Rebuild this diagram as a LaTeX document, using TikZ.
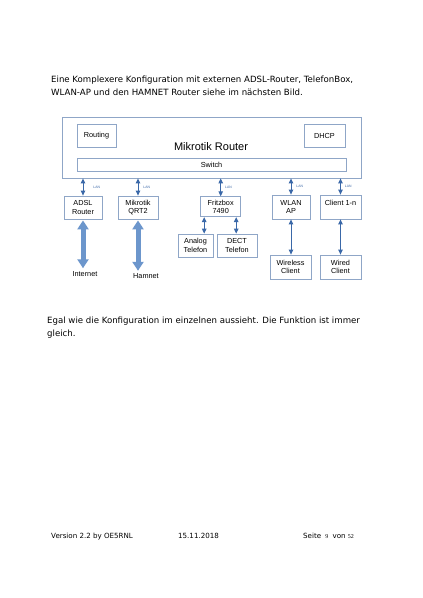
\documentclass[tikz,border=0pt]{standalone}
\usepackage{fontspec}
\setmainfont{DejaVu Sans}
\newfontfamily\diafont{Liberation Sans}
\newfontfamily\numfont{Liberation Serif}
\usetikzlibrary{positioning, arrows.meta, calc}

\definecolor{boxline}{RGB}{143,166,199}
\definecolor{arrowblue}{RGB}{58,104,168}
\definecolor{pipeblue}{RGB}{108,150,204}

\begin{document}
\begin{tikzpicture}[
    x=1pt, y=-1pt,
    box/.style={
      rectangle, draw=boxline, line width=0.8pt, fill=white,
      font=\diafont\fontsize{7.3}{8.5}\selectfont, align=center,
      inner sep=0pt,
    },
    boxlabel/.style={font=\diafont\fontsize{7.3}{8.5}\selectfont, inner sep=1pt},
    lanlabel/.style={font=\diafont\fontsize{3.4}{4}\selectfont, inner sep=0pt},
    bodytext/.style={anchor=base west, inner sep=0pt, font=\fontsize{8.6}{10}\selectfont},
    foot/.style={anchor=base west, inner sep=0pt, font=\fontsize{7.1}{8}\selectfont},
    lan/.style={{Triangle[width=4.5pt,length=5pt]}-{Triangle[width=4.5pt,length=5pt]}, line width=0.9pt, arrowblue},
    pipe/.style={{Triangle[width=11pt,length=9pt]}-{Triangle[width=11pt,length=9pt]}, line width=5pt, pipeblue},
]
\useasboundingbox[fill=white] (0,0) rectangle (423,598);

% Text above the picture
\node[bodytext] (intro1) at (51,82.5) {Eine Komplexere Konfiguration mit externen ADSL-Router, TelefonBox,};
\node[bodytext] (intro2) at (51,95.5) {WLAN-AP und den HAMNET Router siehe im nächsten Bild.};

% Mikrotik router with its parts
\node[box, minimum width=299pt, minimum height=61pt] (router) at (212,147.5) {};
\node[font=\diafont\fontsize{11}{13}\selectfont, inner sep=0pt] (routername) at (211,147) {Mikrotik Router};
\node[box, minimum width=39pt, minimum height=23pt] (routing) at (96.5,135.5) {Routing};
\node[box, minimum width=41pt, minimum height=23pt] (dhcp) at (324.5,135.5) {DHCP};
\node[box, minimum width=269pt, minimum height=13pt] (switch) at (211.5,164.5) {Switch};

% Devices on the LAN ports
\node[box, minimum width=38pt, minimum height=23pt] (adsl) at (83,207.5) {ADSL\\Router};
\node[box, minimum width=40pt, minimum height=23pt] (qrt) at (138,207.5) {Mikrotik\\QRT2};
\node[box, minimum width=40pt, minimum height=20pt] (fritz) at (220.7,206.7) {Fritzbox\\7490};
\node[box, minimum width=38pt, minimum height=24pt] (wlan) at (291,207) {WLAN\\AP};
\node[box, minimum width=41pt, minimum height=24pt] (client) at (340.5,207) {Client 1-n\\{}};

% Second row
\node[box, minimum width=35pt, minimum height=23pt] (analog) at (195.5,245.5) {Analog\\Telefon};
\node[box, minimum width=40pt, minimum height=23pt] (dect) at (237,245.5) {DECT\\Telefon};
\node[box, minimum width=41pt, minimum height=24pt] (wireless) at (290.5,267) {Wireless\\Client};
\node[box, minimum width=41pt, minimum height=24pt] (wired) at (340.5,267) {Wired\\Client};
\node[boxlabel] (internet) at (85,274) {Internet};
\node[boxlabel] (hamnet) at (146,276.5) {Hamnet};

% LAN links
\draw[lan] (adsl |- router.south) -- node[lanlabel, right=10pt] {LAN} (adsl);
\draw[lan] (qrt |- router.south) -- node[lanlabel, right=5pt] {LAN} (qrt);
\draw[lan] (fritz |- router.south) -- node[lanlabel, right=4pt] {LAN} (fritz);
\draw[lan] (wlan |- router.south) -- node[lanlabel, right=5pt] {LAN} (wlan);
\draw[lan] (client |- router.south) -- node[lanlabel, right=4pt] {LAN} (client);

\draw[lan] ([xshift=-16.5pt]fritz.south) -- ([xshift=-16.5pt]fritz.south |- analog.north);
\draw[lan] ([xshift=15.5pt]fritz.south) -- ([xshift=15.5pt]fritz.south |- dect.north);
\draw[lan] (wlan) -- (wlan |- wireless.north);
\draw[lan] (client) -- (client |- wired.north);

% Uplinks
\draw[pipe, shorten <=1pt, shorten >=2pt] (adsl) -- (adsl |- internet.north);
\draw[pipe, shorten <=1pt, shorten >=2pt] (qrt) -- (qrt |- hamnet.north);

% Text below the picture
\node[bodytext] (outro1) at (47,323) {Egal wie die Konfiguration im einzelnen aussieht. Die Funktion ist immer};
\node[bodytext] (outro2) at (47,336) {gleich.};

% Footer
\node[foot] (version) at (51,538) {Version 2.2 by OE5RNL};
\node[foot] (date) at (178,538) {15.11.2018};
\node[foot] (page) at (303,538) {Seite \;{\numfont\fontsize{6}{7}\selectfont 9}\; von {\numfont\fontsize{6}{7}\selectfont 52}};
\end{tikzpicture}
\end{document}
